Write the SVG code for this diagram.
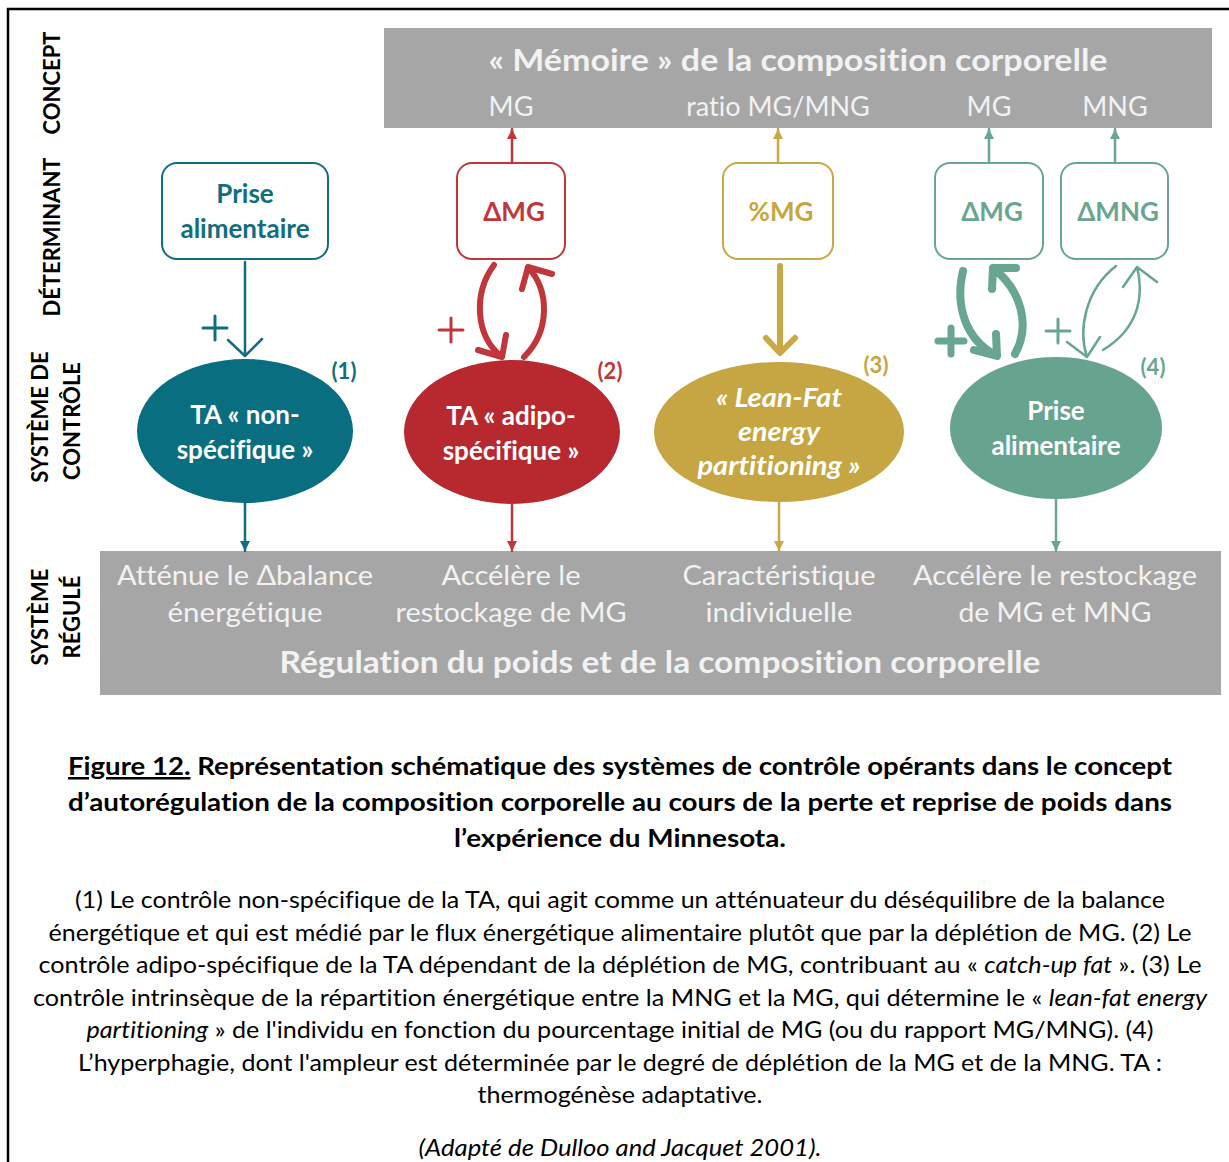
<svg xmlns="http://www.w3.org/2000/svg" width="1229" height="1162" viewBox="0 0 1229 1162">
<style>
  text { font-family: Lato, "Open Sans", "Liberation Sans", sans-serif; font-variant-ligatures: none; }
  .lbl { font-weight: 700; font-size: 22px; fill: #000; text-anchor: middle; }
  .band { fill: #a6a6a6; }
  .bt { fill: #f2f2f2; font-size: 27px; text-anchor: middle; }
  .btb { fill: #f2f2f2; font-size: 30px; font-weight: 700; text-anchor: middle; }
  .box { fill: #fff; stroke-width: 2; }
  .nt { font-weight: 700; font-size: 26px; text-anchor: middle; }
  .et { font-weight: 700; font-size: 26px; fill: #fff; text-anchor: middle; }
  .eti { font-weight: 700; font-size: 26px; fill: #fff; text-anchor: middle; font-style: italic; }
  .num { font-weight: 700; font-size: 22px; text-anchor: middle; }
  .ln { fill: none; stroke-linecap: round; stroke-linejoin: round; }
  .cap { font-size: 24px; fill: #000; text-anchor: middle; }
  .capb { font-size: 25px; font-weight: 700; fill: #000; text-anchor: middle; }
  .teal { stroke: #116e80; }
  .red { stroke: #c0363b; }
  .gold { stroke: #c9a845; }
  .green { stroke: #69a690; }
</style>
<defs>
  <marker id="mTeal" viewBox="0 0 10 10" refX="10" refY="5" markerUnits="userSpaceOnUse" markerWidth="12" markerHeight="10" orient="auto"><path d="M0,0 L10,5 L0,10 z" fill="#116e80"/></marker>
  <marker id="mRed" viewBox="0 0 10 10" refX="10" refY="5" markerUnits="userSpaceOnUse" markerWidth="12" markerHeight="10" orient="auto"><path d="M0,0 L10,5 L0,10 z" fill="#c0363b"/></marker>
  <marker id="mGold" viewBox="0 0 10 10" refX="10" refY="5" markerUnits="userSpaceOnUse" markerWidth="12" markerHeight="10" orient="auto"><path d="M0,0 L10,5 L0,10 z" fill="#c9a845"/></marker>
  <marker id="mGreen" viewBox="0 0 10 10" refX="10" refY="5" markerUnits="userSpaceOnUse" markerWidth="12" markerHeight="10" orient="auto"><path d="M0,0 L10,5 L0,10 z" fill="#69a690"/></marker>
</defs>

<rect width="1229" height="1162" fill="#fff"/>
<!-- frame -->
<path d="M8,1162 L8,9 L1229,9" fill="none" stroke="#000" stroke-width="2.5"/>

<!-- row labels -->
<g id="row-labels">
  <text class="lbl" transform="translate(60,83) rotate(-90)">CONCEPT</text>
  <text class="lbl" transform="translate(60,237) rotate(-90)">DÉTERMINANT</text>
  <text class="lbl" transform="translate(48,417) rotate(-90)">SYSTÈME DE</text>
  <text class="lbl" transform="translate(80,421) rotate(-90)">CONTRÔLE</text>
  <text class="lbl" transform="translate(48,617) rotate(-90)">SYSTÈME</text>
  <text class="lbl" transform="translate(80,617) rotate(-90)">RÉGULÉ</text>
</g>

<!-- top band -->
<g id="memoire">
  <rect class="band" x="384" y="28" width="828" height="100"/>
  <text class="btb" x="798" y="71" textLength="619" lengthAdjust="spacingAndGlyphs">« Mémoire » de la composition corporelle</text>
  <text class="bt" x="511" y="116">MG</text>
  <text class="bt" x="778" y="116">ratio MG/MNG</text>
  <text class="bt" x="989" y="116">MG</text>
  <text class="bt" x="1115" y="116">MNG</text>
</g>

<!-- bottom band -->
<g id="regulation">
  <rect class="band" x="100" y="551" width="1121" height="144"/>
  <text class="bt" x="245" y="585" textLength="256" lengthAdjust="spacingAndGlyphs">Atténue le Δbalance</text>
  <text class="bt" x="245" y="622" textLength="155" lengthAdjust="spacingAndGlyphs">énergétique</text>
  <text class="bt" x="511" y="585" textLength="139" lengthAdjust="spacingAndGlyphs">Accélère le</text>
  <text class="bt" x="511" y="622" textLength="231" lengthAdjust="spacingAndGlyphs">restockage de MG</text>
  <text class="bt" x="779" y="585" textLength="193" lengthAdjust="spacingAndGlyphs">Caractéristique</text>
  <text class="bt" x="779" y="622" textLength="147" lengthAdjust="spacingAndGlyphs">individuelle</text>
  <text class="bt" x="1055" y="585" textLength="284" lengthAdjust="spacingAndGlyphs">Accélère le restockage</text>
  <text class="bt" x="1055" y="622" textLength="193" lengthAdjust="spacingAndGlyphs">de MG et MNG</text>
  <text class="btb" x="660" y="673" textLength="761" lengthAdjust="spacingAndGlyphs">Régulation du poids et de la composition corporelle</text>
</g>

<!-- column 1 -->
<g id="box-prise1">
  <rect class="box teal" x="162" y="163" width="166" height="96" rx="15"/>
  <text class="nt" x="245" y="203" fill="#116e80">Prise</text>
  <text class="nt" x="245" y="238" fill="#116e80">alimentaire</text>
</g>
<g id="ell-nonspec">
  <ellipse cx="245" cy="431" rx="108" ry="72" fill="#086e80"/>
  <text class="et" x="245" y="424">TA « non-</text>
  <text class="et" x="245" y="459">spécifique »</text>
  <text class="num" x="344" y="379" fill="#116e80">(1)</text>
</g>

<!-- column 2 -->
<g id="box-dmg-red">
  <rect class="box red" x="457" y="163" width="108" height="96" rx="15"/>
  <text class="nt" x="514" y="221" fill="#c0363b">ΔMG</text>
</g>
<g id="ell-adipo">
  <ellipse cx="512" cy="432" rx="108" ry="72" fill="#b8282f"/>
  <text class="et" x="511" y="425">TA « adipo-</text>
  <text class="et" x="511" y="460">spécifique »</text>
  <text class="num" x="610" y="379" fill="#c0363b">(2)</text>
</g>

<!-- column 3 -->
<g id="box-pmg">
  <rect class="box gold" x="723" y="163" width="110" height="96" rx="15"/>
  <text class="nt" x="781" y="221" fill="#c7a53f">%MG</text>
</g>
<g id="ell-leanfat">
  <ellipse cx="779" cy="432" rx="125" ry="70" fill="#c6a642"/>
  <text class="eti" x="779" y="407" textLength="126" lengthAdjust="spacingAndGlyphs">« Lean-Fat</text>
  <text class="eti" x="779" y="441" textLength="82" lengthAdjust="spacingAndGlyphs">energy</text>
  <text class="eti" x="779" y="475" textLength="163" lengthAdjust="spacingAndGlyphs">partitioning »</text>
  <text class="num" x="876" y="373" fill="#c7a53f">(3)</text>
</g>

<!-- column 4 -->
<g id="box-dmg-green">
  <rect class="box green" x="935" y="163" width="108" height="96" rx="15"/>
  <text class="nt" x="992" y="221" fill="#69a690">ΔMG</text>
</g>
<g id="box-dmng">
  <rect class="box green" x="1061" y="163" width="107" height="96" rx="15"/>
  <text class="nt" x="1118" y="221" fill="#69a690">ΔMNG</text>
</g>
<g id="ell-prise4">
  <ellipse cx="1056" cy="428" rx="106" ry="71" fill="#67a48f"/>
  <text class="et" x="1056" y="420">Prise</text>
  <text class="et" x="1056" y="455">alimentaire</text>
  <text class="num" x="1153" y="375" fill="#69a690">(4)</text>
</g>

<!-- connectors -->
<g id="connectors">
  <line class="ln red" x1="512" y1="163" x2="512" y2="129" stroke-width="2.5" marker-end="url(#mRed)"/>
  <line class="ln gold" x1="778" y1="163" x2="778" y2="129" stroke-width="2.5" marker-end="url(#mGold)"/>
  <line class="ln green" x1="989" y1="163" x2="989" y2="129" stroke-width="2.5" marker-end="url(#mGreen)"/>
  <line class="ln green" x1="1115" y1="163" x2="1115" y2="129" stroke-width="2.5" marker-end="url(#mGreen)"/>

  <line class="ln teal" x1="245" y1="503" x2="245" y2="551" stroke-width="2.5" marker-end="url(#mTeal)"/>
  <line class="ln red" x1="512" y1="504" x2="512" y2="551" stroke-width="2.5" marker-end="url(#mRed)"/>
  <line class="ln gold" x1="779" y1="502" x2="779" y2="551" stroke-width="2.5" marker-end="url(#mGold)"/>
  <line class="ln green" x1="1056" y1="499" x2="1056" y2="551" stroke-width="2.5" marker-end="url(#mGreen)"/>

  <path class="ln teal" d="M245,262 L245,355 M228,340 L245,356 L262,339" stroke-width="2.5"/>
  <path class="ln teal" d="M203,328 L227,328 M215,316 L215,340" stroke-width="3"/>

  <path class="ln red" d="M494,265 C474,292 474,335 502,357 M478,350 L502,357 L506,335" stroke-width="6"/>
  <path class="ln red" d="M524,357 C551,330 549,290 528,267 M522,289 L528,267 L552,274" stroke-width="6"/>
  <path class="ln red" d="M439,330 L463,330 M451,318 L451,342" stroke-width="3"/>

  <path class="ln gold" d="M780,266 L780,352 M766,338 L780,353 L795,338" stroke-width="6"/>

  <path class="ln green" d="M963,271 C955,305 965,340 997,356 M974,350 L997,356 L996,334" stroke-width="8"/>
  <path class="ln green" d="M1015,354 C1031,325 1021,290 993,268 M992,289 L993,268 L1016,268" stroke-width="8"/>
  <path class="ln green" d="M938,341 L964,341 M951,328 L951,354" stroke-width="7" stroke-linecap="butt"/>

  <path class="ln green" d="M1116,266 C1085,290 1078,330 1087,357 M1067,342 L1087,357 L1100,337" stroke-width="2.5"/>
  <path class="ln green" d="M1103,350 C1136,330 1145,300 1137,267 M1123,287 L1137,267 L1157,282" stroke-width="2.5"/>
  <path class="ln green" d="M1046,331 L1070,331 M1058,319 L1058,343" stroke-width="3"/>
</g>

<!-- caption -->
<g id="caption">
  <text class="capb" x="620" y="775" textLength="1104" lengthAdjust="spacingAndGlyphs"><tspan text-decoration="underline">Figure 12.</tspan> Représentation schématique des systèmes de contrôle opérants dans le concept</text>
  <text class="capb" x="620" y="811" textLength="1104" lengthAdjust="spacingAndGlyphs">d’autorégulation de la composition corporelle au cours de la perte et reprise de poids dans</text>
  <text class="capb" x="620" y="847" textLength="332" lengthAdjust="spacingAndGlyphs">l’expérience du Minnesota.</text>

  <text class="cap" x="620" y="908" textLength="1090" lengthAdjust="spacingAndGlyphs">(1) Le contrôle non-spécifique de la TA, qui agit comme un atténuateur du déséquilibre de la balance</text>
  <text class="cap" x="620" y="941" textLength="1143" lengthAdjust="spacingAndGlyphs">énergétique et qui est médié par le flux énergétique alimentaire plutôt que par la déplétion de MG. (2) Le</text>
  <text class="cap" x="620" y="973" textLength="1163" lengthAdjust="spacingAndGlyphs">contrôle adipo-spécifique de la TA dépendant de la déplétion de MG, contribuant au « <tspan font-style="italic">catch-up fat</tspan> ». (3) Le</text>
  <text class="cap" x="620" y="1006" textLength="1174" lengthAdjust="spacingAndGlyphs">contrôle intrinsèque de la répartition énergétique entre la MNG et la MG, qui détermine le « <tspan font-style="italic">lean-fat energy</tspan></text>
  <text class="cap" x="620" y="1038" textLength="1067" lengthAdjust="spacingAndGlyphs"><tspan font-style="italic">partitioning</tspan> » de l'individu en fonction du pourcentage initial de MG (ou du rapport MG/MNG). (4)</text>
  <text class="cap" x="620" y="1071" textLength="1084" lengthAdjust="spacingAndGlyphs">L’hyperphagie, dont l'ampleur est déterminée par le degré de déplétion de la MG et de la MNG. TA :</text>
  <text class="cap" x="620" y="1103" textLength="285" lengthAdjust="spacingAndGlyphs">thermogénèse adaptative.</text>
  <text class="cap" x="620" y="1156" textLength="403" lengthAdjust="spacingAndGlyphs" font-style="italic">(Adapté de Dulloo and Jacquet 2001).</text>
</g>
</svg>
